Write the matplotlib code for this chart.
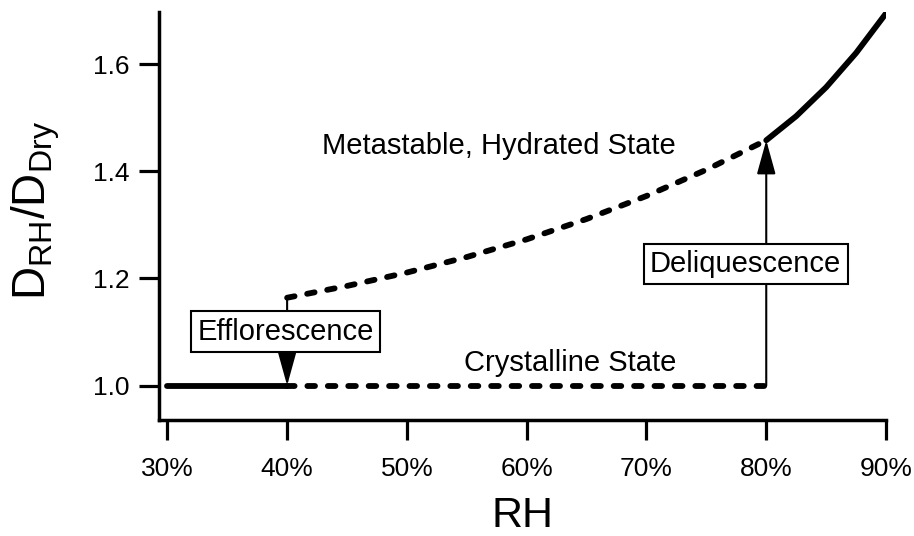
"""Igor-style hysteresis sketch: particle growth factor vs relative humidity."""

import matplotlib

matplotlib.use("Agg")
import matplotlib.pyplot as plt

# values
rh_dry_solid = [30, 40]
gf_dry_solid = [1.0, 1.0]

rh_dry_dash = [40, 80]
gf_dry_dash = [1.0, 1.0]

rh_meta_dash = [40, 45, 50, 55, 60, 65, 70, 75, 80]
gf_meta_dash = [1.164, 1.186, 1.211, 1.240, 1.273, 1.311, 1.354, 1.403, 1.458]

rh_wet_solid = [80, 82.5, 85, 87.5, 90]
gf_wet_solid = [1.458, 1.503, 1.557, 1.621, 1.695]

x_ticks = [30, 40, 50, 60, 70, 80, 90]
x_tick_labels = ["30%", "40%", "50%", "60%", "70%", "80%", "90%"]
y_ticks = [1.0, 1.2, 1.4, 1.6]
y_tick_labels = ["1.0", "1.2", "1.4", "1.6"]

plt.rcParams["font.family"] = ["Liberation Sans", "DejaVu Sans"]
plt.rcParams["mathtext.default"] = "regular"

fig = plt.figure(figsize=(9.14, 5.36), dpi=100)
ax = fig.add_axes([0.1743, 0.2164, 0.7951, 0.7612])

line_kw = dict(color="black", linewidth=4.2)
dash_style = (0, (1.3, 2.2))

ax.plot(rh_dry_solid, gf_dry_solid, solid_capstyle="round", **line_kw)
ax.plot(rh_dry_dash, gf_dry_dash, linestyle=dash_style, dash_capstyle="round", **line_kw)
ax.plot(rh_meta_dash, gf_meta_dash, linestyle=dash_style, dash_capstyle="round", **line_kw)
ax.plot(rh_wet_solid, gf_wet_solid, solid_capstyle="round", **line_kw)

arrow_kw = dict(
    arrowstyle="-|>,head_length=21,head_width=5.8",
    mutation_scale=1,
    color="black",
    linewidth=1.5,
    shrinkA=0,
    shrinkB=0,
)
# efflorescence: drop from metastable branch to crystalline
ax.annotate("", xy=(rh_meta_dash[0], gf_dry_dash[0]),
            xytext=(rh_meta_dash[0], gf_meta_dash[0]), arrowprops=arrow_kw, zorder=3)
# deliquescence: jump from crystalline to solution branch
ax.annotate("", xy=(rh_wet_solid[0], gf_wet_solid[0]),
            xytext=(rh_dry_dash[-1], gf_dry_dash[-1]), arrowprops=arrow_kw, zorder=3)

box_kw = dict(boxstyle="square,pad=0.22", facecolor="white", edgecolor="black", linewidth=1.5)
ax.text(39.89, 1.1007, "Efflorescence", fontsize=21, ha="center", va="center",
        bbox=box_kw, zorder=5)
ax.text(78.28, 1.227, "Deliquescence", fontsize=21, ha="center", va="center",
        bbox=box_kw, zorder=5)
ax.text(57.68, 1.4326, "Metastable, Hydrated State", fontsize=21,
        ha="center", va="baseline")
ax.text(63.6, 1.027, "Crystalline State", fontsize=21, ha="center", va="baseline")

ax.set_xlim(29.33, 90)
ax.set_ylim(0.9357, 1.6975)
ax.set_xticks(x_ticks)
ax.set_xticklabels(x_tick_labels)
ax.set_yticks(y_ticks)
ax.set_yticklabels(y_tick_labels)

for side in ["top", "right"]:
    ax.spines[side].set_visible(False)
for side in ["left", "bottom"]:
    ax.spines[side].set_linewidth(2.5)
    ax.spines[side].set_capstyle("projecting")

ax.tick_params(axis="both", direction="out", length=14.5, width=2.3, labelsize=19)
ax.tick_params(axis="x", pad=12)
ax.tick_params(axis="y", pad=7)

ax.set_xlabel("RH", fontsize=31)
ax.xaxis.set_label_coords(0.5, -0.187)
ax.set_ylabel(r"$D_{RH}/D_{Dry}$", fontsize=33)
ax.yaxis.set_label_coords(-0.134, 0.515)

fig.savefig("out.png", dpi=100)
plt.close(fig)
